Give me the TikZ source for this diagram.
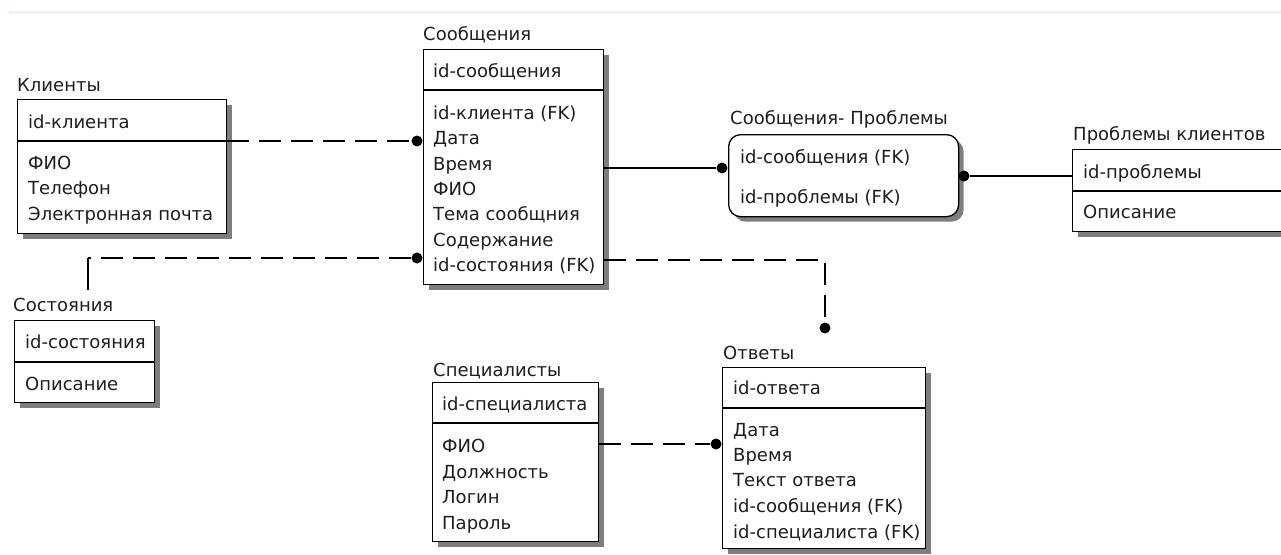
\documentclass[tikz,border=0pt]{standalone}
\usepackage{fontspec}
\setmainfont{DejaVu Sans}
\usetikzlibrary{shadows}
\definecolor{shadowgray}{HTML}{7E7E7E}
\definecolor{bandblue}{HTML}{EDF2FA}
\definecolor{inkc}{HTML}{1E1E1E}
\begin{document}
\begin{tikzpicture}[x=1pt,y=-1pt,
  ent/.style={draw=black, line width=1.3pt, fill=white, inner sep=0pt, anchor=north west,
    drop shadow={shadow xshift=5pt, shadow yshift=-5pt, fill=shadowgray, opacity=1}},
  txt/.style={anchor=base west, inner sep=0pt, text=inkc, font=\fontsize{18}{21}\selectfont},
  dotn/.style={circle, fill=black, inner sep=0pt, minimum size=11pt},
  conn/.style={line width=1.3pt, black},
  dconn/.style={conn, dash pattern=on 22pt off 10pt},
  divl/.style={line width=1.3pt, black}
]
\useasboundingbox (0,0) rectangle (1281,554);
\clip (0,0) rectangle (1281,554);
\fill[bandblue] (9,11) rectangle (1281,14);

% ---- Клиенты
\node[txt] (klT) at (17,91) {Клиенты};
\node[ent, minimum width=209pt, minimum height=134pt] (kl) at (17,99) {};
\draw[divl] (17,141) -- (226,141);
\node[txt] (kl1) at (28,128) {id-клиента};
\node[txt] (kl2) at (28,169) {ФИО};
\node[txt] (kl3) at (28,194) {Телефон};
\node[txt] (kl4) at (28,220) {Электронная почта};

% ---- Сообщения
\node[txt] (soT) at (423,40) {Сообщения};
\node[ent, minimum width=180pt, minimum height=235pt] (so) at (423,49) {};
\draw[divl] (423,90) -- (603,90);
\node[txt] (so1) at (433,77) {id-сообщения};
\node[txt] (so2) at (433,119) {id-клиента (FK)};
\node[txt] (so3) at (433,144) {Дата};
\node[txt] (so4) at (433,170) {Время};
\node[txt] (so5) at (433,195) {ФИО};
\node[txt] (so6) at (433,220) {Тема сообщния};
\node[txt] (so7) at (433,246) {Содержание};
\node[txt] (so8) at (433,271) {id-состояния (FK)};

% ---- Сообщения-Проблемы
\node[txt] (spT) at (730,124) {Сообщения- Проблемы};
\node[ent, rounded corners=12pt, minimum width=230pt, minimum height=82pt] (sp) at (728,134) {};
\node[txt] (sp1) at (740,163) {id-сообщения (FK)};
\node[txt] (sp2) at (740,203) {id-проблемы (FK)};

% ---- Проблемы клиентов
\node[txt] (prT) at (1073,140) {Проблемы клиентов};
\node[ent, minimum width=223pt, minimum height=82pt] (pr) at (1072,149) {};
\draw[divl] (1072,191) -- (1295,191);
\node[txt] (pr1) at (1083,178) {id-проблемы};
\node[txt] (pr2) at (1083,218) {Описание};

% ---- Состояния
\node[txt] (stT) at (13,311) {Состояния};
\node[ent, minimum width=140pt, minimum height=82pt] (st) at (14,320) {};
\draw[divl] (14,362) -- (154,362);
\node[txt] (st1) at (25,348) {id-состояния};
\node[txt] (st2) at (25,390) {Описание};

% ---- Специалисты
\node[txt] (spcT) at (433,376) {Специалисты};
\node[ent, minimum width=166pt, minimum height=159pt] (spc) at (432,382) {};
\draw[divl] (432,423) -- (598,423);
\node[txt] (spc1) at (442,410) {id-специалиста};
\node[txt] (spc2) at (442,452) {ФИО};
\node[txt] (spc3) at (442,478) {Должность};
\node[txt] (spc4) at (442,503) {Логин};
\node[txt] (spc5) at (442,529) {Пароль};

% ---- Ответы
\node[txt] (otT) at (723,359) {Ответы};
\node[ent, minimum width=203pt, minimum height=181pt] (ot) at (722,367) {};
\draw[divl] (722,408) -- (925,408);
\node[txt] (ot1) at (733,394) {id-ответа};
\node[txt] (ot2) at (733,436) {Дата};
\node[txt] (ot3) at (733,461) {Время};
\node[txt] (ot4) at (733,486) {Текст ответа};
\node[txt] (ot5) at (733,512) {id-сообщения (FK)};
\node[txt] (ot6) at (733,538) {id-специалиста (FK)};

% ---- relationship ends
\node[dotn] (dKl) at (417,141) {};
\node[dotn] (dSt) at (417,258) {};
\node[dotn] (dSp) at (722,168) {};
\node[dotn] (dPr) at (964,176) {};
\node[dotn] (dOt) at (825,328) {};
\node[dotn] (dSpc) at (716,444) {};
\coordinate (cSt1) at (88,258);
\coordinate (cSt2) at (88,290);
\coordinate (cOt1) at (825,260);

% ---- connectors
\draw[dconn] (kl.east |- dKl) -- (dKl);
\draw[dconn] (dSt) -- (cSt1);
\draw[conn] (cSt1) -- (cSt2);
\draw[conn] (so.east |- dSp) -- (dSp);
\draw[conn] (dPr) -- (pr.west |- dPr);
\draw[dconn] (so.east |- cOt1) -- (cOt1) -- ([yshift=5pt]dOt.north);
\draw[dconn] (spc.east |- dSpc) -- (dSpc);
\end{tikzpicture}
\end{document}
